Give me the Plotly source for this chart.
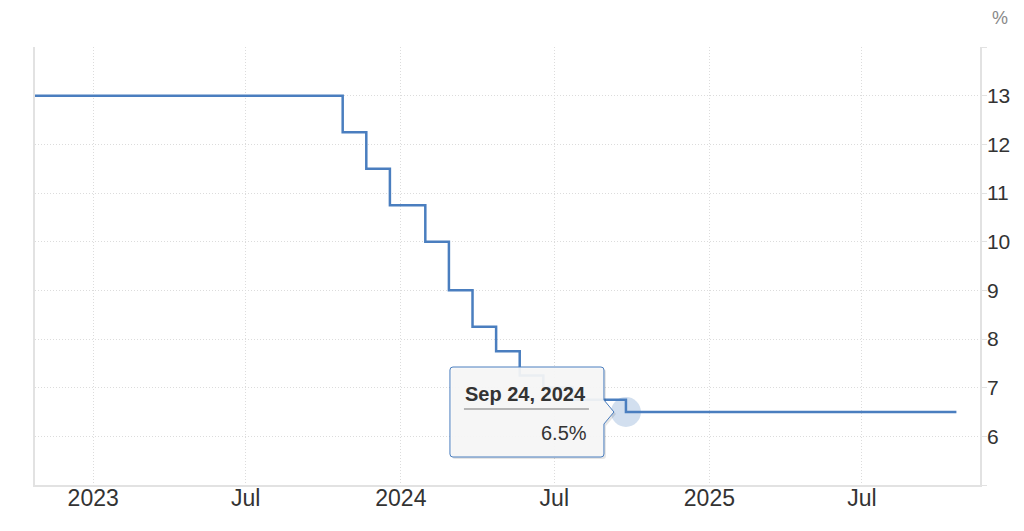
import plotly.graph_objects as go

# Step-change dates and policy rate values (%)
dates = ["2022-10-24", "2023-10-24", "2023-11-21", "2023-12-19", "2024-01-30",
         "2024-02-27", "2024-03-26", "2024-04-23", "2024-05-21", "2024-06-18",
         "2024-07-23", "2024-09-24", "2025-10-21"]
rates = [13.0, 12.25, 11.5, 10.75, 10.0, 9.0, 8.25, 7.75, 7.25, 7.0, 6.75, 6.5, 6.5]

x_tickvals = ["2023-01-01", "2023-07-01", "2024-01-01", "2024-07-01", "2025-01-01", "2025-07-01"]
x_ticktext = ["2023", "Jul", "2024", "Jul", "2025", "Jul"]
y_tickvals = [5, 6, 7, 8, 9, 10, 11, 12, 13, 14]
y_ticktext = ["", "6", "7", "8", "9", "10", "11", "12", "13", ""]

hover_date = "2024-09-24"
hover_value = 6.5
hover_title = "Sep 24, 2024"
hover_label = "6.5%"

LINE = "#4a7ebf"
GRID = "#dcdcdc"
AXIS = "#e2e2e2"
FONT = "Liberation Sans, Arial, sans-serif"

fig = go.Figure()
fig.add_trace(go.Scatter(x=dates, y=rates, mode="lines",
                         line=dict(color=LINE, width=2.5, shape="hv"),
                         hoverinfo="skip", showlegend=False))
fig.add_trace(go.Scatter(x=[hover_date], y=[hover_value], mode="markers",
                         marker=dict(size=30, color="rgba(74,126,191,0.25)", line=dict(width=0)),
                         hoverinfo="skip", showlegend=False))

# Tooltip box (pixel-sized, anchored at hovered point)
box = ("M -173,45 L -25,45 Q -22,45 -22,42 L -22,12 L -12,0 L -22,-12 L -22,-42 "
       "Q -22,-45 -25,-45 L -173,-45 Q -176,-45 -176,-42 L -176,42 Q -176,45 -173,45 Z")
shadow = ("M -171,43 L -23,43 Q -20,43 -20,40 L -20,10 L -10,-2 L -20,-14 L -20,-44 "
          "Q -20,-47 -23,-47 L -171,-47 Q -174,-47 -174,-44 L -174,40 Q -174,43 -171,43 Z")
common = dict(xref="x", yref="y", xsizemode="pixel", ysizemode="pixel",
              xanchor=hover_date, yanchor=hover_value, layer="above")
fig.add_shape(type="path", path=shadow, fillcolor="rgba(0,0,0,0.10)",
              line=dict(width=0), **common)
fig.add_shape(type="path", path=box, fillcolor="rgba(248,248,248,0.93)",
              line=dict(color=LINE, width=1), **common)
fig.add_shape(type="line", x0=-162, x1=-37, y0=3, y1=3,
              line=dict(color="#777777", width=1), **common)

fig.add_annotation(x=hover_date, y=hover_value, xref="x", yref="y", showarrow=False,
                   text="<b>" + hover_title + "</b>", xanchor="center", yanchor="middle",
                   xshift=-100, yshift=18, font=dict(family=FONT, size=20, color="#333333"))
fig.add_annotation(x=hover_date, y=hover_value, xref="x", yref="y", showarrow=False,
                   text=hover_label, xanchor="right", yanchor="middle",
                   xshift=-37, yshift=-21, font=dict(family=FONT, size=20, color="#333333"))
fig.add_annotation(x=1.0, y=1.0, xref="paper", yref="paper", showarrow=False,
                   text="%", xanchor="center", yanchor="bottom", xshift=20, yshift=17,
                   font=dict(family=FONT, size=18, color="#888888"))

# page body has an 8px default margin; size the figure to fit the 1024x531 window
fig.update_layout(
    width=1016, height=523,
    margin=dict(l=27, r=44, t=39, b=46),
    paper_bgcolor="white", plot_bgcolor="white",
    font=dict(family=FONT, color="#333333"),
    showlegend=False,
    xaxis=dict(range=["2022-10-24", "2025-11-18"], tickvals=x_tickvals, ticktext=x_ticktext,
               showgrid=True, gridcolor=GRID, griddash="1px,2px", gridwidth=1,
               showline=True, linecolor=AXIS, linewidth=1.5, ticks="",
               ticklabelstandoff=-8,
               tickfont=dict(size=23, color="#333333"), zeroline=False, automargin=False),
    yaxis=dict(side="right", range=[5, 14], tickvals=y_tickvals, ticktext=y_ticktext,
               showgrid=True, gridcolor=GRID, griddash="1px,2px", gridwidth=1,
               showline=True, mirror=True, linecolor=AXIS, linewidth=1.5,
               ticks="outside", ticklen=5, tickcolor=AXIS, ticklabelstandoff=-4,
               tickfont=dict(size=21, color="#333333"), zeroline=False, automargin=False),
)

fig.write_html("out.html")
